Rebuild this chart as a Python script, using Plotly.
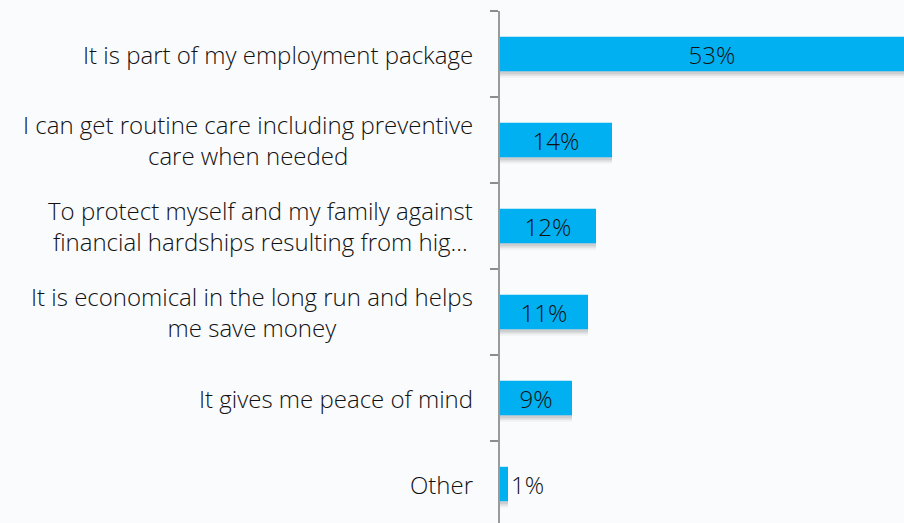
import plotly.graph_objects as go

# Survey reasons, listed bottom to top on the category axis
categories = [
    "Other",
    "It gives me peace of mind",
    "It is economical in the long run and helps<br>me save money",
    "To protect myself and my family against<br>financial hardships resulting from hig…",
    "I can get routine care including preventive<br>care when needed",
    "It is part of my employment package",
]
values = [1, 9, 11, 12, 14, 53]
value_labels = [f"{v}%" for v in values]

BAR_COLOR = "#00B0F0"
TEXT_COLOR = "#111111"
BG = "#FAFBFD"
FONT = "Open Sans"
WEIGHT = 300
SIZE = 24
BAR_W = 0.4

fig = go.Figure()

# soft drop shadow under each bar
for shift, alpha in [(0.075, 0.05), (0.055, 0.08), (0.035, 0.12)]:
    fig.add_trace(go.Bar(
        x=values, y=categories, orientation="h",
        width=BAR_W, offset=-BAR_W / 2 - shift,
        marker=dict(color=f"rgba(60,60,60,{alpha})", line=dict(width=0)),
        hoverinfo="skip", showlegend=False,
    ))

value_font = dict(family=FONT, size=SIZE, color=TEXT_COLOR, weight=WEIGHT)
fig.add_trace(go.Bar(
    x=values, y=categories, orientation="h",
    width=BAR_W, offset=-BAR_W / 2,
    marker=dict(color=BAR_COLOR, line=dict(width=0)),
    text=value_labels, textposition="auto", textangle=0,
    insidetextanchor="middle",
    textfont=value_font, outsidetextfont=value_font, insidetextfont=value_font,
    constraintext="none",
    cliponaxis=True,
    hoverinfo="skip", showlegend=False,
))

# category labels, centred lines, right edge just left of the axis
for cat in categories:
    fig.add_annotation(
        x=0, xref="paper", xshift=-25, xanchor="right",
        y=cat, yref="y", yanchor="middle",
        text=cat, showarrow=False, align="center",
        font=dict(family=FONT, size=SIZE, color=TEXT_COLOR, weight=WEIGHT),
    )

fig.update_layout(
    width=904, height=523,
    margin=dict(l=500, r=0, t=11, b=0),
    paper_bgcolor=BG, plot_bgcolor=BG,
    barmode="overlay",
    bargap=0.6,
    uniformtext=dict(minsize=SIZE, mode="show"),
    xaxis=dict(
        range=[0, 404 / 8], visible=False, showgrid=False, zeroline=False,
    ),
    yaxis=dict(
        type="category", categoryorder="array", categoryarray=categories,
        range=[-0.5 + (6 * 86 - 512) / 86, 5.5],
        tickson="boundaries", ticks="outside", ticklen=8, tickwidth=1.5,
        tickcolor="#8C8C8C", showticklabels=False,
        showline=True, linecolor="#9A9A9A", linewidth=2,
        showgrid=False, zeroline=False,
    ),
)

fig.write_html("out.html")
